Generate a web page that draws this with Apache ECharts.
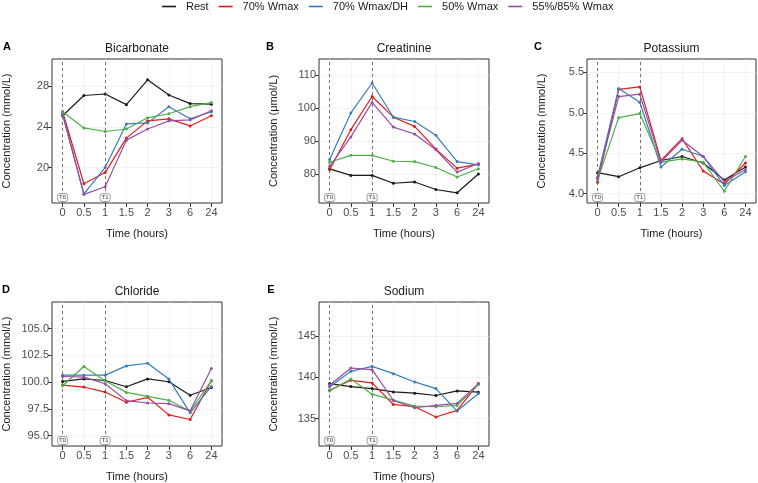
<!DOCTYPE html>
<html>
<head>
<meta charset="utf-8">
<script src="https://cdn.jsdelivr.net/npm/echarts@6/dist/echarts.min.js"></script>
<style>
    html, body {margin: 0; padding: 0; background: #fff;}
    #main {width: 758px; height: 483px;}
</style>
</head>
<body>
<div id="main"></div>
<script>
// x categories (hours) and groups
var times = ['0', '0.5', '1', '1.5', '2', '3', '6', '24'];
var groups = ['Rest', '70% Wmax', '70% Wmax/DH', '50% Wmax', '55%/85% Wmax'];
var colors = ['#1a1a1a', '#E41A1C', '#377EB8', '#4DAF4A', '#984EA3'];

// rows follow groups order
var bicarbonate = [
    [25.1, 27.1, 27.25, 26.2, 28.65, 27.15, 26.3, 26.25],
    [25.5, 18.4, 19.5, 22.9, 24.6, 24.8, 24.1, 25.1],
    [25.3, 17.4, 20.0, 24.3, 24.4, 26.0, 24.8, 25.5],
    [25.5, 23.9, 23.55, 23.8, 24.9, 25.3, 26.0, 26.4],
    [25.2, 17.35, 18.1, 22.7, 23.8, 24.6, 24.7, 25.6]
];
var creatinine = [
    [81.6, 79.6, 79.6, 77.2, 77.6, 75.3, 74.3, 80.0],
    [81.3, 93.5, 103.6, 97.3, 94.5, 87.6, 81.8, 83.0],
    [84.4, 98.6, 107.7, 97.3, 96.0, 91.8, 83.8, 82.8],
    [83.6, 85.7, 85.7, 83.9, 83.8, 82.0, 79.1, 81.6],
    [82.3, 91.3, 101.8, 94.3, 92.2, 87.4, 80.6, 83.2]
];
var potassium = [
    [4.26, 4.21, 4.32, 4.41, 4.46, 4.38, 4.17, 4.33],
    [4.14, 5.29, 5.32, 4.41, 4.68, 4.28, 4.12, 4.38],
    [4.21, 5.30, 5.13, 4.33, 4.55, 4.46, 4.10, 4.27],
    [4.17, 4.94, 4.99, 4.39, 4.43, 4.39, 4.03, 4.46],
    [4.19, 5.20, 5.23, 4.39, 4.66, 4.46, 4.15, 4.30]
];
var chloride = [
    [100.06, 100.3, 100.15, 99.57, 100.3, 100.03, 98.77, 99.5],
    [99.72, 99.54, 99.07, 98.12, 98.58, 96.94, 96.51, 100.12],
    [100.65, 100.65, 100.65, 101.51, 101.76, 100.28, 97.13, 99.6],
    [99.66, 101.45, 100.12, 99.04, 98.67, 98.3, 97.28, 100.12],
    [100.52, 100.46, 99.85, 98.27, 98.05, 97.99, 97.31, 101.27]
];
var sodium = [
    [139.24, 138.88, 138.64, 138.24, 138.08, 137.8, 138.36, 138.2],
    [138.44, 139.64, 139.32, 136.72, 136.44, 135.2, 136.0, 139.24],
    [138.84, 140.72, 141.32, 140.44, 139.44, 138.64, 135.92, 138.04],
    [138.36, 139.8, 137.96, 137.24, 136.52, 136.44, 136.6, 139.12],
    [139.04, 141.12, 140.92, 137.2, 136.32, 136.6, 136.84, 139.24]
];

// y tick labels per panel
var bicarbonateTicks = [20, 24, 28];
var creatinineTicks = [80, 90, 100, 110];
var potassiumTicks = [4.0, 4.5, 5.0, 5.5];
var chlorideTicks = [95.0, 97.5, 100.0, 102.5, 105.0];
var sodiumTicks = [135, 140, 145];

var panels = [
    {letter: 'A', title: 'Bicarbonate', unit: 'Concentration (mmol/L)', data: bicarbonate, ticks: bicarbonateTicks, min: 16.5, max: 30.7, digits: 0,
        box: {left: 52, top: 59, width: 170, height: 144}, lx: 7},
    {letter: 'B', title: 'Creatinine', unit: 'Concentration (\u03bcmol/L)', data: creatinine, ticks: creatinineTicks, min: 71.2, max: 115, digits: 0,
        box: {left: 319, top: 59, width: 170, height: 144}, lx: 270},
    {letter: 'C', title: 'Potassium', unit: 'Concentration (mmol/L)', data: potassium, ticks: potassiumTicks, min: 3.885, max: 5.665, digits: 1,
        box: {left: 587, top: 59, width: 169, height: 144}, lx: 538},
    {letter: 'D', title: 'Chloride', unit: 'Concentration (mmol/L)', data: chloride, ticks: chlorideTicks, min: 94.04, max: 107.47, digits: 1,
        box: {left: 52, top: 302, width: 170, height: 145}, lx: 6},
    {letter: 'E', title: 'Sodium', unit: 'Concentration (mmol/L)', data: sodium, ticks: sodiumTicks, min: 131.7, max: 149.1, digits: 0,
        box: {left: 319, top: 302, width: 170, height: 145}, lx: 271}
];

var FONT = 'Liberation Sans, Arial, sans-serif';

function $each(arr, fn) {
    for (var i = 0; i < arr.length; i++) fn(arr[i], i);
}

var myChart = echarts.init(document.getElementById('main'));
var option = {
    animation: false,
    backgroundColor: '#fff',
    textStyle: {fontFamily: FONT},
    legend: {
        data: groups,
        left: 162,
        top: 0,
        padding: [1, 0],
        icon: 'rect',
        itemWidth: 14,
        itemHeight: 1.6,
        itemGap: 10,
        textStyle: {fontSize: 11, color: '#1a1a1a', padding: [0, 0, 0, 5]}
    },
    grid: [],
    xAxis: [],
    yAxis: [],
    series: [],
    graphic: []
};

$each(panels, function (p, k) {
    var grid = p.box;
    option.grid.push({
        left: grid.left, top: grid.top, width: grid.width, height: grid.height,
        show: true, borderColor: '#333', borderWidth: 1, backgroundColor: '#fff'
    });
    option.xAxis.push({
        type: 'category',
        gridIndex: k,
        data: times,
        boundaryGap: true,
        name: 'Time (hours)',
        nameLocation: 'middle',
        nameGap: 25,
        nameTextStyle: {fontSize: 11, color: '#1a1a1a'},
        axisLine: {show: false},
        axisTick: {show: true, alignWithLabel: true, length: 4, lineStyle: {color: '#333'}},
        axisLabel: {interval: 0, fontSize: 11, color: '#4D4D4D', margin: 4},
        splitLine: {show: true, alignWithLabel: true, lineStyle: {color: '#EBEBEB', width: 0.6}}
    });
    option.yAxis.push({
        type: 'value',
        gridIndex: k,
        min: p.min,
        max: p.max,
        name: p.unit,
        nameLocation: 'middle',
        nameGap: 40,
        nameTextStyle: {fontSize: 11, color: '#1a1a1a'},
        axisLine: {show: false},
        axisTick: {show: true, length: 4, customValues: p.ticks, lineStyle: {color: '#333'}},
        axisLabel: {
            fontSize: 11, color: '#4D4D4D', margin: 3, customValues: p.ticks,
            formatter: function (v) { return Number(v).toFixed(p.digits); }
        },
        splitLine: {show: true, lineStyle: {color: '#EBEBEB', width: 0.6}}
    });
    var boxY = p.min + (p.max - p.min) * 5.5 / grid.height;
    $each(groups, function (g, i) {
        var s = {
            name: g,
            type: 'line',
            xAxisIndex: k,
            yAxisIndex: k,
            data: p.data[i],
            symbol: 'circle',
            symbolSize: 3,
            color: colors[i],
            lineStyle: {width: 1.2, color: colors[i]},
            itemStyle: {color: colors[i]},
            z: 3 + i
        };
        if (i === 0) {
            // T0 / T1 markers
            s.markLine = {
                silent: true,
                symbol: 'none',
                label: {show: false},
                lineStyle: {type: [3, 3], color: '#555', width: 0.8},
                data: [{xAxis: '0'}, {xAxis: '1'}]
            };
            s.markPoint = {
                silent: true,
                symbol: 'roundRect',
                symbolSize: [10, 8],
                itemStyle: {color: '#fff', borderColor: '#777', borderWidth: 0.7},
                label: {show: true, position: 'inside', formatter: '{b}', fontSize: 6, color: '#333'},
                data: [
                    {name: 'T0', coord: ['0', boxY]},
                    {name: 'T1', coord: ['1', boxY]}
                ]
            };
        }
        option.series.push(s);
    });
    option.graphic.push({
        type: 'text', x: grid.left + grid.width / 2, y: grid.top - 10,
        style: {text: p.title, fontSize: 12, fill: '#1a1a1a', textAlign: 'center', textVerticalAlign: 'middle', fontFamily: FONT}
    });
    option.graphic.push({
        type: 'text', x: p.lx, y: grid.top - 12,
        style: {text: p.letter, fontSize: 11, fontWeight: 'bold', fill: '#000', textAlign: 'center', textVerticalAlign: 'middle', fontFamily: FONT}
    });
});

myChart.setOption(option);
window.onresize = function () {
    myChart.resize();
};
</script>
</body>
</html>
